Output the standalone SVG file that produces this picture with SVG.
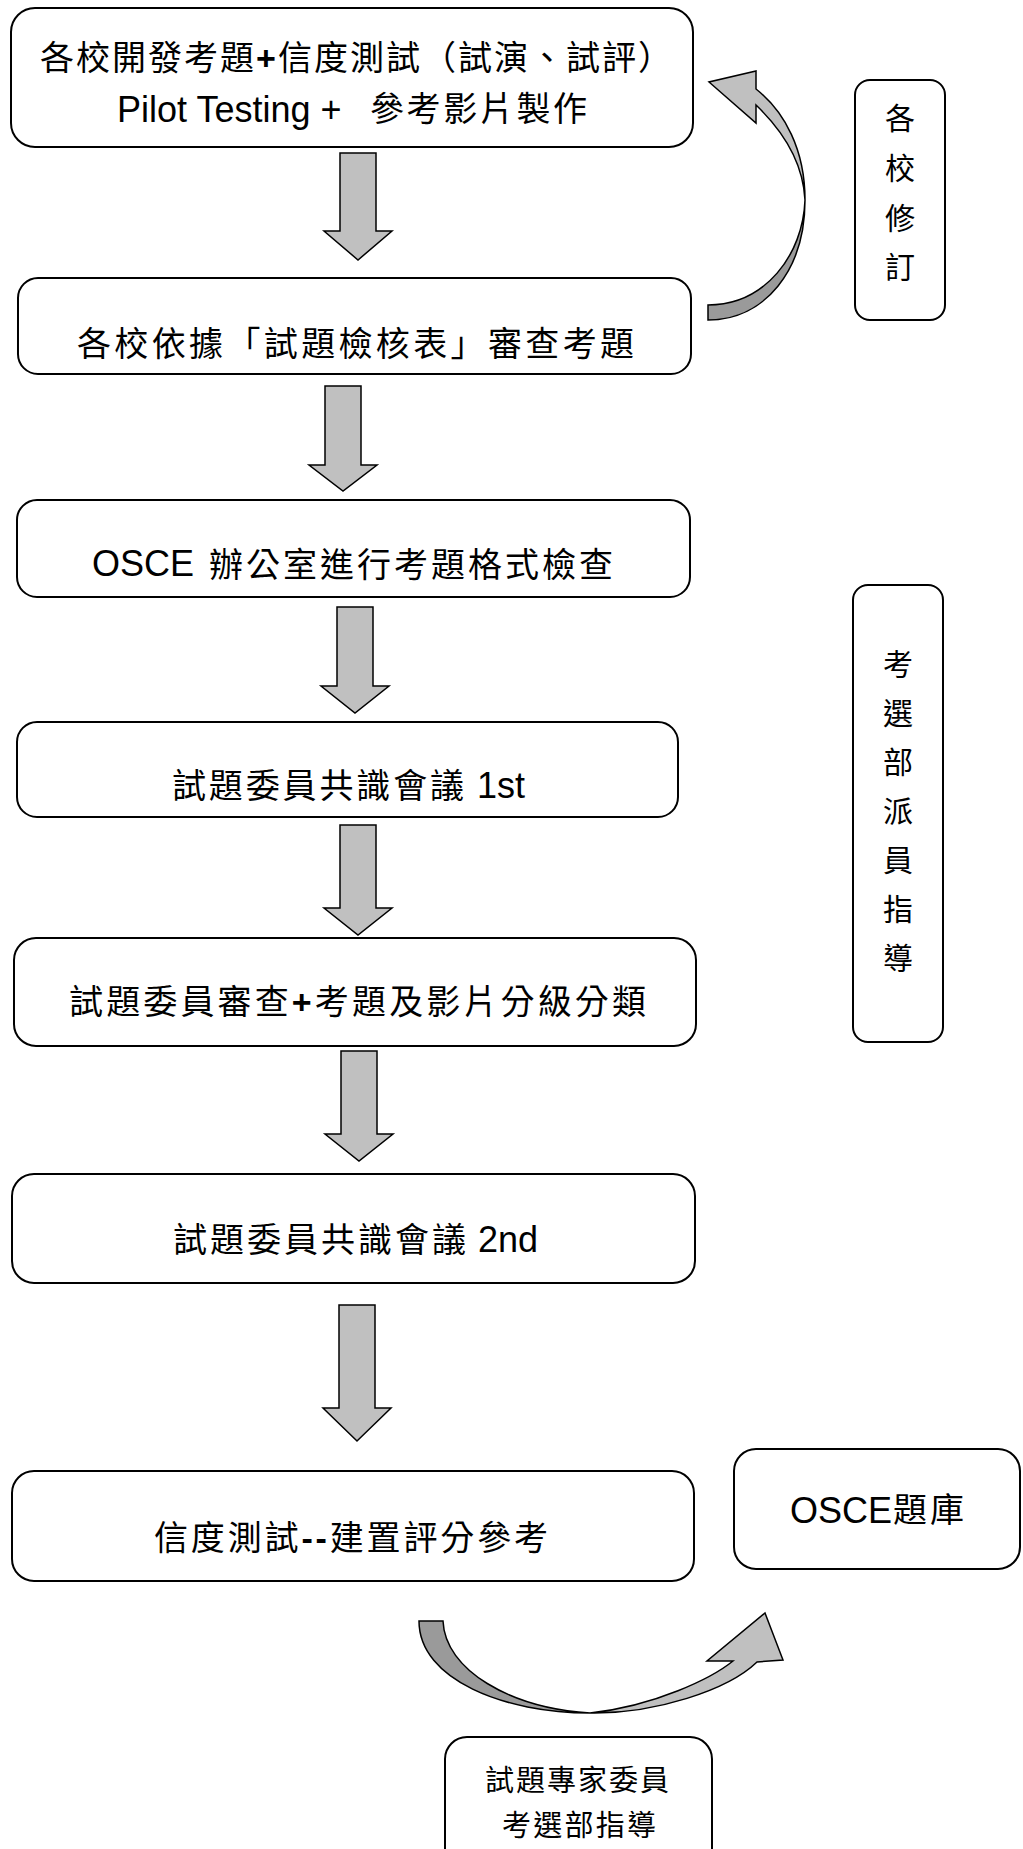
<svg xmlns="http://www.w3.org/2000/svg" width="1023" height="1849" viewBox="0 0 1023 1849">
<style>
.box{fill:#fff;stroke:#000;stroke-width:2}
.arr{fill:#c0c0c0;stroke:#000;stroke-width:1.5;stroke-linejoin:miter}
.dk{fill:#9a9a9a;stroke:#000;stroke-width:1.5}
.cjk{font-family:"Noto Sans CJK TC","Noto Sans CJK SC",sans-serif;font-size:34px;fill:#000}
.sm{font-family:"Noto Sans CJK TC","Noto Sans CJK SC",sans-serif;font-size:29px;fill:#000}
.vt{font-family:"Noto Sans CJK TC","Noto Sans CJK SC",sans-serif;font-size:30px;fill:#000;text-anchor:middle}
.lat{font-family:"Liberation Sans",Arial,sans-serif;font-size:36px;fill:#000}
.plus{font-family:"Liberation Sans",Arial,sans-serif;font-weight:bold}
</style>
<rect width="1023" height="1849" fill="#fff"/>

<g id="connectors">
  <path class="arr" d="M340,153 H376 V231 H392 L358,260 L324,231 H340 Z"/>
  <path class="arr" d="M325,386 H361 V465 H377 L343,491 L309,465 H325 Z"/>
  <path class="arr" d="M337,607 H373 V686 H389 L355,713 L321,686 H337 Z"/>
  <path class="arr" d="M340,825 H376 V908 H392 L358,935 L324,908 H340 Z"/>
  <path class="arr" d="M341,1051 H377 V1134 H393 L359,1161 L325,1134 H341 Z"/>
  <path class="arr" d="M339,1305 H375 V1408 H391 L357,1441 L323,1408 H339 Z"/>
  <g id="curve-revise">
    <path class="dk" d="M708,305 L708,320 C765,320 805,270 805,200 C803,255 765,305 708,305 Z"/>
    <path class="arr" d="M805,200 C805,150 785,112 756,89 L756,71 L709,82 L756,123 L756,105 C780,128 803,160 805,200 Z"/>
  </g>
  <g id="curve-bank">
    <path class="dk" d="M419,1621 L443,1621 C445,1670 510,1708 590,1713 C505,1713 419,1680 419,1621 Z"/>
    <path class="arr" d="M590,1713 C655,1714 728,1690 757,1662 L783,1660 L765,1613 L707,1661 L733,1661 C712,1678 655,1706 590,1713 Z"/>
  </g>
</g>

<g id="n1">
  <rect class="box" x="11" y="8" width="682" height="139" rx="24"/>
  <text class="cjk" x="40" y="70" textLength="632" lengthAdjust="spacing">各校開發考題<tspan class="plus">+</tspan>信度測試（試演、試評）</text>
  <text class="lat" x="117" y="122">Pilot Testing +</text>
  <text class="cjk" x="370" y="121" textLength="217" lengthAdjust="spacing">參考影片製作</text>
</g>

<g id="n2">
  <rect class="box" x="18" y="278" width="673" height="96" rx="20"/>
  <text class="cjk" x="77" y="356" textLength="557" lengthAdjust="spacing">各校依據「試題檢核表」審查考題</text>
</g>

<g id="n3">
  <rect class="box" x="17" y="500" width="673" height="97" rx="20"/>
  <text class="lat" x="92" y="576">OSCE</text>
  <text class="cjk" x="209" y="577" textLength="404" lengthAdjust="spacing">辦公室進行考題格式檢查</text>
</g>

<g id="n4">
  <rect class="box" x="17" y="722" width="661" height="95" rx="20"/>
  <text class="cjk" x="172" y="798" textLength="292" lengthAdjust="spacing">試題委員共識會議</text>
  <text class="lat" x="477" y="798">1st</text>
</g>

<g id="n5">
  <rect class="box" x="14" y="938" width="682" height="108" rx="22"/>
  <text class="cjk" x="69" y="1014" textLength="577" lengthAdjust="spacing">試題委員審查<tspan class="plus">+</tspan>考題及影片分級分類</text>
</g>

<g id="n6">
  <rect class="box" x="12" y="1174" width="683" height="109" rx="22"/>
  <text class="cjk" x="173" y="1252" textLength="293" lengthAdjust="spacing">試題委員共識會議</text>
  <text class="lat" x="478" y="1252">2nd</text>
</g>

<g id="n7">
  <rect class="box" x="12" y="1471" width="682" height="110" rx="22"/>
  <text class="cjk" x="154" y="1550" textLength="394" lengthAdjust="spacing">信度測試<tspan class="plus" font-weight="normal">--</tspan>建置評分參考</text>
</g>

<g id="bank">
  <rect class="box" x="734" y="1449" width="286" height="120" rx="22"/>
  <text class="lat" x="790" y="1523">OSCE</text>
  <text class="cjk" x="893" y="1522" textLength="71" lengthAdjust="spacing">題庫</text>
</g>

<g id="experts">
  <rect class="box" x="445" y="1737" width="267" height="135" rx="22"/>
  <text class="sm" x="485" y="1791" textLength="184" lengthAdjust="spacing">試題專家委員</text>
  <text class="sm" x="502" y="1836" textLength="154" lengthAdjust="spacing">考選部指導</text>
</g>

<g id="side-revise">
  <rect class="box" x="855" y="80" width="90" height="240" rx="15"/>
  <text class="vt" x="900" y="129">各</text>
  <text class="vt" x="900" y="179">校</text>
  <text class="vt" x="900" y="229">修</text>
  <text class="vt" x="900" y="278">訂</text>
</g>

<g id="side-guide">
  <rect class="box" x="853" y="585" width="90" height="457" rx="15"/>
  <text class="vt" x="898" y="675">考</text>
  <text class="vt" x="898" y="724">選</text>
  <text class="vt" x="898" y="773">部</text>
  <text class="vt" x="898" y="822">派</text>
  <text class="vt" x="898" y="871">員</text>
  <text class="vt" x="898" y="920">指</text>
  <text class="vt" x="898" y="969">導</text>
</g>
</svg>
